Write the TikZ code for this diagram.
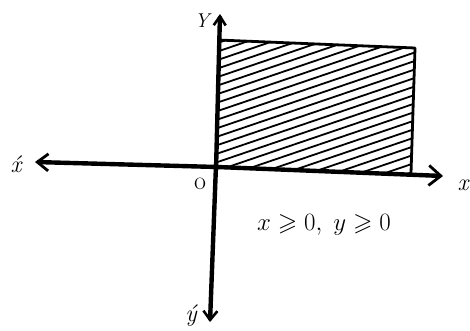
\documentclass[tikz,border=0pt]{standalone}
\usepackage{amssymb}
\usetikzlibrary{arrows.meta}
\begin{document}
\begin{tikzpicture}[x=1pt,y=-1pt,
  axis/.style={line width=4.4pt,line cap=round},
  edge/.style={line width=2.8pt,line join=round},
  hatch/.style={line width=1.8pt},
  lab/.style={font=\fontsize{24}{26}\selectfont\itshape,inner sep=0pt}]
\useasboundingbox (0,0) rectangle (470,331);
% region corners
\coordinate (A) at (218,40);
\coordinate (B) at (415,48);
\coordinate (C) at (411,173);
\coordinate (D) at (218,168);
% hatching
\begin{scope}
  \clip (A) -- (B) -- (C) -- (D) -- cycle;
  \foreach \k in {0,...,44}{
    \draw[hatch] (200,{168+8.5*\k-(8.5*26)}) -- ++(260,{-260*0.34});
  }
\end{scope}
\draw[edge] (A) -- (B) -- (C);
% axes
\coordinate (xl) at (35,162);
\coordinate (xr) at (443,176);
\coordinate (yt) at (220,14);
\coordinate (yb) at (210,322);
\draw[axis,-{Straight Barb[length=12pt,width=20pt,line width=2.8pt]}] (217,167) -- (xr);
\draw[axis,-{Straight Barb[length=11pt,width=17pt,line width=2.8pt]}] (217,167) -- (xl);
\draw[axis,-{Straight Barb[length=9pt,width=12pt,line width=2.6pt]}] (216,170) -- (yt);
\draw[axis,-{Straight Barb[length=9pt,width=14pt,line width=2.6pt]}] (216,165) -- (yb);
% labels
\node[lab,font=\fontsize{20}{22}\selectfont\itshape] (ly) at (202,21) {Y};
\node[lab] (lx1) at (16,164) {\'x};
\node[lab] (lx) at (463,185) {x};
\node[lab] (ly1) at (191,316) {\'y};
\node[lab,font=\fontsize{26}{28}\selectfont] (o) at (200,184) {o};
\node[inner sep=0pt,font=\fontsize{25}{27}\selectfont] (cond) at (324,225) {$x\geqslant 0,\;y\geqslant 0$};
\end{tikzpicture}
\end{document}
